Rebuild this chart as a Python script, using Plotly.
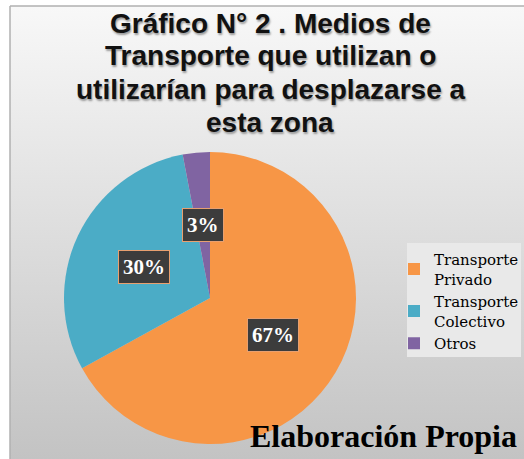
import math
import plotly.graph_objects as go

W, H = 524, 459

categories = ["Transporte<br>Privado", "Transporte<br>Colectivo", "Otros"]
values = [67, 30, 3]
colors = ["#F79646", "#4BACC6", "#8064A2"]
pct_labels = ["67%", "30%", "3%"]

title_lines = ["Gráfico N° 2 . Medios de",
               "Transporte que utilizan o",
               "utilizarían para desplazarse a",
               "esta zona"]
source_text = "Elaboración Propia"

# pie geometry in pixels
cx, cy, r = 210, 298, 146

fig = go.Figure()

# background panel with vertical gradient
fig.add_trace(go.Scatter(
    x=[10, W, W, 10, 10], y=[0, 0, H - 6, H - 6, 0],
    fill="toself", mode="lines", line=dict(width=0),
    fillgradient=dict(type="vertical",
                      colorscale=[[0, "#c3c3c3"], [1, "#f8f8f8"]]),
    hoverinfo="skip", showlegend=False,
))

fig.add_trace(go.Pie(
    labels=categories, values=values, sort=False,
    direction="clockwise", rotation=0,
    marker=dict(colors=colors, line=dict(width=0)),
    textinfo="none", hoverinfo="label+percent",
    domain=dict(x=[(cx - r) / W, (cx + r) / W],
                y=[(H - cy - r) / H, (H - cy + r) / H]),
))

# percentage labels in dark boxes, placed at mid-angle of each slice
total = sum(values)
cum = 0
for v, lab in zip(values, pct_labels):
    mid = (cum + v / 2) / total * 2 * math.pi
    cum += v
    px = cx + 0.5 * r * math.sin(mid)
    py = cy - 0.5 * r * math.cos(mid)
    fig.add_annotation(
        x=px / W, y=(H - py) / H, xref="paper", yref="paper",
        xanchor="center", yanchor="middle",
        text="<b>%s</b>" % lab, showarrow=False,
        font=dict(family="Liberation Serif", size=21, color="white"),
        bgcolor="#3c3c3c", bordercolor="#e8a070", borderwidth=1, borderpad=4,
    )

# title, one annotation per line
for i, line in enumerate(title_lines):
    fig.add_annotation(
        x=270 / W, y=(H - (23 + 33 * i)) / H, xref="paper", yref="paper",
        xanchor="center", yanchor="middle", showarrow=False,
        text="<b>%s</b>" % line,
        font=dict(family="Liberation Sans", size=28, color="#111111",
                  shadow="1px 2px 2px #9a9a9a"),
    )

fig.add_annotation(
    x=519 / W, y=(H - 436) / H, xref="paper", yref="paper",
    xanchor="right", yanchor="middle", showarrow=False,
    text="<b>%s</b>" % source_text,
    font=dict(family="Liberation Serif", size=32, color="black"),
)

# chart border (top and left visible)
fig.add_shape(type="line", xref="paper", yref="paper",
              x0=10 / W, x1=1, y0=(H - 6) / H, y1=(H - 6) / H,
              line=dict(color="#b0b0b0", width=1.5))
fig.add_shape(type="line", xref="paper", yref="paper",
              x0=10 / W, x1=10 / W, y0=0, y1=(H - 6) / H,
              line=dict(color="#b0b0b0", width=1.5))
# legend box
fig.add_shape(type="rect", xref="paper", yref="paper", layer="above",
              x0=407 / W, x1=521 / W, y0=(H - 357) / H, y1=(H - 243) / H,
              fillcolor="#e9e9e9", line=dict(width=0))

fig.update_layout(
    width=W, height=H,
    margin=dict(l=0, r=0, t=0, b=0),
    paper_bgcolor="white", plot_bgcolor="rgba(0,0,0,0)",
    xaxis=dict(range=[0, W], domain=[0, 1], visible=False, fixedrange=True),
    yaxis=dict(range=[0, H], domain=[0, 1], visible=False, fixedrange=True),
    showlegend=True,
    legend=dict(x=394 / W, y=(H - 243) / H, xanchor="left", yanchor="top",
                bgcolor="rgba(0,0,0,0)", borderwidth=0,
                font=dict(family="DejaVu Serif", size=15, color="black"),
                itemsizing="constant", tracegroupgap=0, itemwidth=30),
)

fig.write_html("out.html", config={"displayModeBar": False},
               post_script="document.body.style.margin='0';")
